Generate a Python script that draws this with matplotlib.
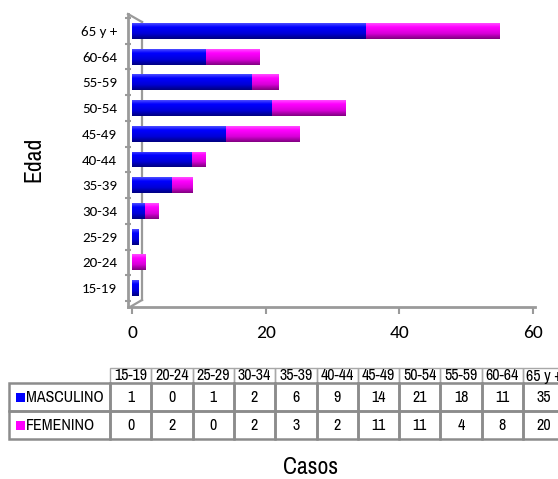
import numpy as np
import matplotlib
matplotlib.use("Agg")
import matplotlib.pyplot as plt
from matplotlib.colors import LinearSegmentedColormap
from matplotlib.patches import Rectangle
from matplotlib.lines import Line2D

# Age groups and case counts by sex
age_groups = ["15-19", "20-24", "25-29", "30-34", "35-39", "40-44",
              "45-49", "50-54", "55-59", "60-64", "65 y +"]
masculino = [1, 0, 1, 2, 6, 9, 14, 21, 18, 11, 35]
femenino = [0, 2, 0, 2, 3, 2, 11, 11, 4, 8, 20]
series_names = ["MASCULINO", "FEMENINO"]
x_ticks = [0, 20, 40, 60]

BLUE = "#0000ff"
MAGENTA = "#ff00ff"
GRID = "#9a9a9a"
NARROW = ["Archivo Narrow", "Liberation Sans", "DejaVu Sans"]
TICKF = ["Carlito", "Liberation Sans", "DejaVu Sans"]

W, H = 558, 479
fig = plt.figure(figsize=(W / 100, H / 100), dpi=100)

# main bar axes (pixel box 128..535 x 14..307)
ax = fig.add_axes([128 / W, 1 - 307 / H, 407 / W, 293 / H])
px_per_unit = 401 / 60.0
xlim = (-4 / px_per_unit, 60 + 2 / px_per_unit)
cat_px = 25.73
ylim = (-0.5 - 6 / cat_px, 10.5 + 4 / cat_px)

y = np.arange(len(age_groups))
bar_h = 0.62


def shade(color):
    base = np.array(matplotlib.colors.to_rgb(color))
    light = base + (1 - base) * 0.30
    dark = base * 0.50
    return LinearSegmentedColormap.from_list(
        "s", [(0.0, dark), (0.35, base * 0.85), (0.75, base), (1.0, light)])


grad = np.linspace(0, 1, 64).reshape(-1, 1)
for vals, lefts, color in [(masculino, None, BLUE),
                           (femenino, masculino, MAGENTA)]:
    bars = ax.barh(y, vals, left=lefts, height=bar_h, color=color,
                   edgecolor="none", zorder=3)
    cmap = shade(color)
    for p in bars:
        if p.get_width() <= 0:
            continue
        x0, y0 = p.get_x(), p.get_y()
        im = ax.imshow(grad, cmap=cmap, aspect="auto", origin="lower",
                       extent=(x0, x0 + p.get_width(), y0, y0 + p.get_height()),
                       zorder=4, interpolation="bilinear")
        im.set_clip_path(p)

ax.set_xlim(*xlim)
ax.set_ylim(*ylim)

# 3-D style frame: front spines plus back wall edge and diagonals
for s in ["top", "right"]:
    ax.spines[s].set_visible(False)
for s in ["left", "bottom"]:
    ax.spines[s].set_color(GRID)
    ax.spines[s].set_linewidth(2)
bx = 14 / 407
frame = [((bx, bx), (7 / 293, 1 - 8 / 293)),
         ((0, bx), (1, 1 - 8 / 293)),
         ((0.005, bx), (0, 7 / 293))]
for xs, ys in frame:
    ax.add_line(Line2D(xs, ys, transform=ax.transAxes, color=GRID, lw=1.6,
                       zorder=1, clip_on=False))

ax.set_xticks(x_ticks)
ax.set_xticklabels([str(v) for v in x_ticks], fontfamily=TICKF, fontsize=14)
ax.tick_params(axis="x", direction="out", length=5, width=1.5, color=GRID, pad=8)

ax.set_yticks(y)
ax.set_yticklabels(age_groups, fontfamily=TICKF, fontsize=10.8)
ax.tick_params(axis="y", which="major", length=0, pad=8)
ax.set_yticks(np.arange(-0.5, len(age_groups), 1), minor=True)
ax.tick_params(axis="y", which="minor", direction="inout", length=5,
               width=1.5, color=GRID)

fig.text(34 / W, 1 - 159 / H, "Edad", rotation=90, ha="center", va="center",
         fontfamily=NARROW, fontsize=17)
fig.text(311 / W, 1 - 467 / H, "Casos", ha="center", va="center",
         fontfamily=NARROW, fontsize=17)

# data table under the chart
tax = fig.add_axes([0, 0, 1, 1], zorder=5)
tax.set_xlim(0, W)
tax.set_ylim(H, 0)
tax.axis("off")

col0, col_w = 110, 41.3
lab_x0 = 9
row_y = [368, 383, 411, 439]
for i, g in enumerate(age_groups):
    cx = col0 + i * col_w
    tax.add_patch(Rectangle((cx, row_y[0]), col_w, row_y[1] - row_y[0],
                            fill=False, edgecolor="#a8a8a8", lw=1.0))
    tax.text(cx + col_w / 2, (row_y[0] + row_y[1]) / 2 + 0.5, g,
             ha="center", va="center", fontfamily=NARROW, fontsize=11.5)

for r, (name, vals, color) in enumerate(zip(series_names,
                                            [masculino, femenino],
                                            [BLUE, MAGENTA])):
    ya, yb = row_y[r + 1], row_y[r + 2]
    ym = (ya + yb) / 2
    tax.add_patch(Rectangle((lab_x0, ya), col0 - lab_x0, yb - ya,
                            fill=False, edgecolor="#8c8c8c", lw=1.8))
    tax.add_patch(Rectangle((16, ym - 4.5), 8.5, 9, facecolor=color,
                            edgecolor="none"))
    tax.text(26, ym + 0.5, name, ha="left", va="center",
             fontfamily=NARROW, fontsize=11.5)
    for i, v in enumerate(vals):
        cx = col0 + i * col_w
        tax.add_patch(Rectangle((cx, ya), col_w, yb - ya, fill=False,
                                edgecolor="#8c8c8c", lw=1.8))
        tax.text(cx + col_w / 2, ym + 0.5, str(v), ha="center", va="center",
                 fontfamily=NARROW, fontsize=11.5)

fig.savefig("out.png", dpi=100, facecolor="white")
